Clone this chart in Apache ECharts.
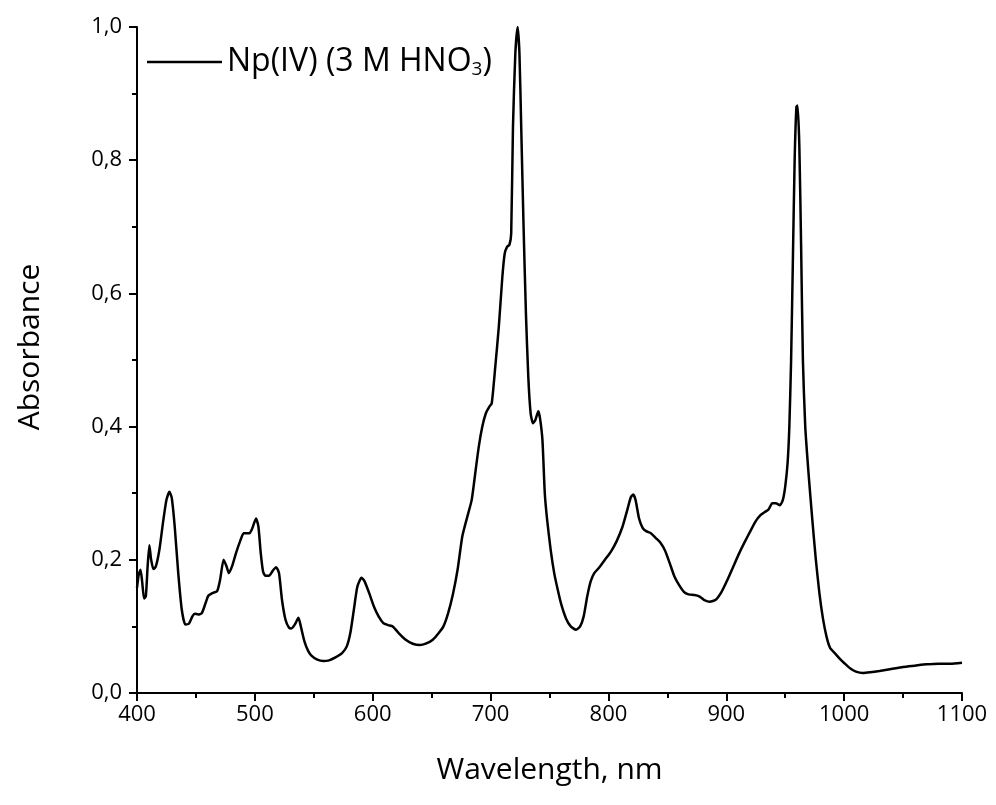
<!DOCTYPE html>
<html>
<head>
<meta charset="utf-8">
<script src="https://cdn.jsdelivr.net/npm/echarts@6/dist/echarts.min.js"></script>
<style>
  html, body { margin: 0; padding: 0; background: #fff; }
  #curve { width: 996px; height: 805px; }
</style>
</head>
<body>
<div id="curve"></div>
<script>
// 波长 (nm)
var wavelength = [
  400, 401.5, 403, 404.5, 406, 407.5, 409, 410.5, 412, 414, 416, 419, 422, 425, 427.5, 429.5,
  432, 435, 438, 441, 444, 447, 449, 452, 455, 458, 460.5, 464, 468, 470.5, 473.5, 476, 478,
  481, 484, 487.5, 490.5, 493, 495.5, 498, 501, 503, 505, 507, 509, 512, 515, 518, 520.5, 523,
  526, 529, 531, 534, 537, 539, 542, 545, 548, 553, 558, 563, 568, 574, 578, 581, 584, 587,
  590.5, 593, 597, 601, 605, 609, 613, 617, 622, 628, 634, 640, 645, 651, 656, 660, 664, 668,
  672, 676, 680, 684, 687, 690, 693, 696, 699, 701, 704, 707, 710, 712, 714, 716, 717.5, 719,
  721, 723, 724.5, 726, 728, 730, 732, 734, 736, 738, 740.5, 742, 744, 746, 748, 751, 754, 757,
  760, 764, 768, 772.5, 776, 779, 782, 785, 788, 792, 797, 802, 807, 812, 816, 819, 821, 823,
  826, 829, 832, 836, 840, 844, 848, 852, 856, 860, 864, 868, 873, 877, 881, 886, 891, 896,
  901, 906, 911, 916, 921, 925, 929, 933, 936, 939, 942, 945.5, 948, 950, 952, 953.5, 955,
  956.5, 958, 959.5, 960.5, 962, 963.5, 965, 967, 970, 973, 976, 979, 982, 985, 988, 992, 996,
  1000, 1005, 1010, 1016, 1022, 1030, 1040, 1050, 1060, 1070, 1080, 1090, 1100
];
// 吸光度
var absorbance = [
  0.158, 0.178, 0.185, 0.165, 0.142, 0.145, 0.19, 0.222, 0.2, 0.186, 0.19, 0.215, 0.255, 0.29, 0.302, 0.293,
  0.25, 0.18, 0.125, 0.103, 0.104, 0.115, 0.119, 0.118, 0.12, 0.134, 0.146, 0.15, 0.153, 0.17, 0.2, 0.19, 0.18,
  0.192, 0.21, 0.228, 0.24, 0.24, 0.24, 0.248, 0.262, 0.25, 0.21, 0.182, 0.176, 0.176, 0.183, 0.189, 0.18, 0.14,
  0.11, 0.098, 0.097, 0.103, 0.113, 0.1, 0.078, 0.064, 0.056, 0.05, 0.048, 0.049, 0.053, 0.06, 0.07, 0.09, 0.125, 0.16,
  0.173, 0.168, 0.15, 0.13, 0.115, 0.105, 0.102, 0.1, 0.09, 0.08, 0.074, 0.072, 0.074, 0.08, 0.09, 0.1, 0.12, 0.148,
  0.185, 0.235, 0.263, 0.29, 0.33, 0.37, 0.4, 0.42, 0.43, 0.435, 0.49, 0.55, 0.625, 0.66, 0.67, 0.673, 0.69, 0.85,
  0.96, 1.0, 0.96, 0.85, 0.7, 0.57, 0.475, 0.42, 0.405, 0.41, 0.423, 0.412, 0.38, 0.3, 0.26, 0.215, 0.18, 0.155,
  0.133, 0.112, 0.1, 0.095, 0.1, 0.115, 0.145, 0.168, 0.18, 0.188, 0.2, 0.212, 0.228, 0.25, 0.275, 0.294, 0.298, 0.29,
  0.262, 0.248, 0.243, 0.24, 0.233, 0.226, 0.214, 0.195, 0.175, 0.162, 0.152, 0.148, 0.147, 0.145, 0.14, 0.137, 0.14, 0.152,
  0.17, 0.19, 0.21, 0.228, 0.245, 0.258, 0.267, 0.272, 0.276, 0.285, 0.285, 0.282, 0.29, 0.31, 0.345, 0.40, 0.5,
  0.65, 0.8, 0.88, 0.882, 0.82, 0.67, 0.5, 0.4, 0.325, 0.26, 0.2, 0.15, 0.112, 0.085, 0.068, 0.06, 0.052,
  0.045, 0.037, 0.032, 0.03, 0.031, 0.033, 0.036, 0.039, 0.041, 0.043, 0.044, 0.044, 0.0455
];
var seriesName = 'Np(IV) (3 M HNO3)';

var points = wavelength.map(function (x, i) { return [x, absorbance[i]]; });

var myChart = echarts.init(document.getElementById('curve'));
var font = 'Open Sans';

var option = {
    backgroundColor: '#fff',
    animation: false,
    grid: {
        left: 137,
        right: 34,
        top: 27,
        bottom: 112
    },
    legend: {
        left: 147,
        top: 46,
        padding: 0,
        icon: 'rect',
        itemWidth: 75,
        itemHeight: 2.5,
        itemGap: 4,
        data: [seriesName],
        itemStyle: { color: '#000' },
        formatter: function () {
            return '{a|Np(IV) (3 M HNO}{b|3}{a|)}';
        },
        textStyle: {
            padding: [0, 0, 0, 0],
            rich: {
                a: { fontFamily: font, fontSize: 32, color: '#000' },
                b: { fontFamily: font, fontSize: 19, color: '#000', verticalAlign: 'bottom', padding: [16, 0, 0, 0] }
            }
        }
    },
    xAxis: {
        type: 'value',
        min: 400,
        max: 1100,
        interval: 100,
        name: 'Wavelength, nm',
        nameLocation: 'middle',
        nameGap: 62,
        nameTextStyle: { fontFamily: font, fontSize: 30, color: '#000' },
        axisLine: { lineStyle: { color: '#000', width: 2 } },
        axisTick: { length: 8, lineStyle: { color: '#000', width: 2 } },
        minorTick: { show: true, splitNumber: 2, length: 5, lineStyle: { color: '#000', width: 2 } },
        axisLabel: {
            fontFamily: font, fontSize: 22, color: '#000', margin: 11,
            formatter: function (v) { return String(v); }
        },
        splitLine: { show: false }
    },
    yAxis: {
        type: 'value',
        min: 0,
        max: 1.0,
        interval: 0.2,
        name: 'Absorbance',
        nameLocation: 'middle',
        nameGap: 92,
        nameTextStyle: { fontFamily: font, fontSize: 30, color: '#000', padding: [0, 0, 0, 26] },
        axisLine: { show: true, lineStyle: { color: '#000', width: 2 } },
        axisTick: { show: true, length: 8, lineStyle: { color: '#000', width: 2 } },
        minorTick: { show: true, splitNumber: 2, length: 5, lineStyle: { color: '#000', width: 2 } },
        axisLabel: {
            fontFamily: font, fontSize: 22, color: '#000', margin: 15,
            formatter: function (v) { return v.toFixed(1).replace('.', ','); }
        },
        splitLine: { show: false }
    },
    series: [{
        name: seriesName,
        type: 'line',
        data: points,
        symbol: 'none',
        smooth: 0.2,
        lineStyle: { color: '#000', width: 2.5 },
        itemStyle: { color: '#000' }
    }]
};
myChart.setOption(option);
</script>
</body>
</html>
